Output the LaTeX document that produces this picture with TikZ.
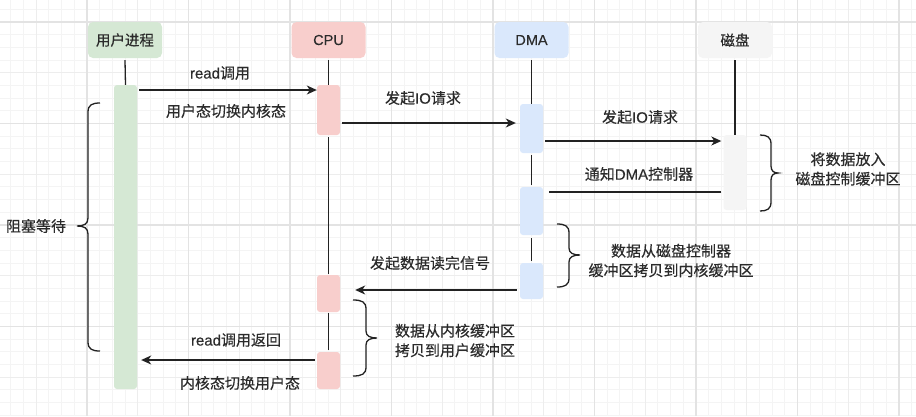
\documentclass[tikz,border=0pt]{standalone}
\usepackage{fontspec}
\setmainfont{Noto Sans CJK SC}[FakeBold=0.35]
\newfontfamily\lat{Liberation Sans}[FakeBold=0.25]
\usetikzlibrary{arrows.meta,calc}
\definecolor{txt}{HTML}{2B2B2B}
\definecolor{ln}{HTML}{222222}
\definecolor{ugreen}{HTML}{D5E8D4}
\definecolor{cred}{HTML}{F8CECC}
\definecolor{dblue}{HTML}{DAE8FC}
\definecolor{kgray}{HTML}{F5F5F5}
\definecolor{gminor}{HTML}{F4F4F4}
\definecolor{gmed}{HTML}{EDEDED}
\definecolor{gmajor}{HTML}{E3E3E3}
\tikzset{
  head/.style={rectangle, rounded corners=5pt, draw=none, minimum width=74pt, minimum height=36pt, inner sep=0pt, text=txt, font=\fontsize{14.5}{17}\selectfont},
  actbar/.style={rectangle, rounded corners=3pt, draw=none, minimum width=23pt, inner sep=0pt},
  life/.style={draw=ln, line width=1.3pt},
  arr/.style={draw=ln, line width=1.3pt, -{Stealth[length=10pt,width=9pt,inset=3pt]}},
  plain/.style={draw=ln, line width=1.3pt},
  brc/.style={draw=ln, line width=1.3pt},
  lbl/.style={text=txt, inner sep=0pt, font=\fontsize{15}{19.5}\selectfont, align=center},
}
\begin{document}
\begin{tikzpicture}[x=1pt,y=-1pt]
\useasboundingbox (0,0) rectangle (916,416);
\fill[white] (0,0) rectangle (916,416);
% grid
\begin{scope}
\clip (0,0) rectangle (916,416);
\foreach \i in {-7,...,66} \draw[gminor, line width=0.9pt] ({87+\i*12.6875},0) -- ++(0,416);
\foreach \i in {-2,...,32} \draw[gminor, line width=0.9pt] (0,{22+\i*12.6875}) -- ++(916,0);
\foreach \i in {-2,...,17} \draw[gmed, line width=1pt] ({87+\i*50.75},0) -- ++(0,416);
\foreach \i in {-1,...,8} \draw[gmed, line width=1pt] (0,{22+\i*50.75}) -- ++(916,0);
\foreach \i in {-1,...,8} \draw[gmajor, line width=1.1pt] ({87+\i*101.5},0) -- ++(0,416);
\foreach \i in {0,...,4} \draw[gmajor, line width=1.1pt] (0,{22+\i*101.5}) -- ++(916,0);
\end{scope}
% heads
\node[head, fill=ugreen] (hu) at (125,40) {用户进程};
\node[head, fill=cred]   (hc) at (328.5,40) {\lat CPU};
\node[head, fill=dblue]  (hd) at (531.5,40) {\lat DMA};
\node[head, fill=kgray]  (hk) at (735,40) {磁盘};
% activation bars
\node[actbar, fill=ugreen, minimum height=304pt] (ub) at (125.5,237) {};
\node[actbar, fill=cred, minimum height=50pt] (cb1) at (328.5,110) {};
\node[actbar, fill=cred, minimum height=37pt] (cb2) at (328.5,293.5) {};
\node[actbar, fill=cred, minimum height=37pt] (cb3) at (328.5,370.5) {};
\node[actbar, fill=dblue, minimum height=49pt] (db1) at (531.5,128.5) {};
\node[actbar, fill=dblue, minimum height=48pt] (db2) at (531.5,211) {};
\node[actbar, fill=dblue, minimum height=36pt] (db3) at (531.5,281) {};
\node[actbar, fill=kgray, minimum height=75pt] (kb) at (735,172.5) {};
% lifelines
\draw[life] ($(hu.south)+(0,2)$) -- (ub.north);
\draw[life] ($(hc.south)+(0,2)$) -- (cb1.north);
\draw[life] ($(cb1.south)+(0,2)$) -- ($(cb2.north)+(0,-1)$);
\draw[life] ($(cb2.south)+(0,1)$) -- ($(cb3.north)+(0,-2)$);
\draw[life] ($(hd.south)+(0,2)$) -- (db1.north);
\draw[life] ($(db1.south)+(0,2)$) -- ($(db2.north)+(0,-2)$);
\draw[life] ($(db2.south)+(0,3)$) -- ($(db3.north)+(0,-2)$);
\draw[life] ($(hk.south)+(0,2)$) -- (kb.north);
% messages
\draw[arr] ($(ub.east |- 0,90)+(2,0)$) -- (cb1.west |- 0,90);
\draw[arr] ($(cb1.east |- 0,123)+(2,0)$) -- ($(db1.west |- 0,123)+(-4,0)$);
\draw[arr] ($(db1.east |- 0,141)+(2,0)$) -- ($(kb.west |- 0,141)+(-2,0)$);
\draw[plain] ($(kb.west |- 0,192)+(-2,0)$) -- ($(db2.east |- 0,192)+(6,0)$);
\draw[arr] ($(db3.west |- 0,290)+(-3,0)$) -- ($(cb2.east |- 0,290)+(15,0)$);
\draw[arr] ($(cb3.west |- 0,360)+(-2,0)$) -- ($(ub.east |- 0,360)+(4,0)$);
% message labels
\node[lbl] (l1) at (220,73) {{\lat read}调用};
\node[lbl] (l2) at (226,111) {用户态切换内核态};
\node[lbl] (l3) at (423,98) {发起{\lat IO}请求};
\node[lbl] (l4) at (640,117) {发起{\lat IO}请求};
\node[lbl] (l5) at (639,174) {通知{\lat DMA}控制器};
\node[lbl] (l6) at (430,263) {发起数据读完信号};
\node[lbl] (l7) at (236,340) {{\lat read}调用返回};
\node[lbl] (l8) at (240,383) {内核态切换用户态};
% braces
\draw[brc] (100,103) .. controls (92,103) and (88,105) .. (88,112) -- (88,218)
  .. controls (88,224) and (84,226) .. (77,226) .. controls (84,226) and (88,228) .. (88,234)
  -- (88,342) .. controls (88,349) and (92,351) .. (100,351);
\draw[brc] (760,135) .. controls (767,135) and (771,137) .. (771,144) -- (771,166)
  .. controls (771,171) and (774,173) .. (778,173) .. controls (774,173) and (771,175) .. (771,180)
  -- (771,202) .. controls (771,209) and (767,211) .. (760,211);
\draw[brc] (557,224) .. controls (565,224) and (569,226) .. (569,233) -- (569,248)
  .. controls (569,253) and (573,255) .. (580,255) .. controls (573,255) and (569,257) .. (569,262)
  -- (569,278) .. controls (569,285) and (565,287) .. (557,287);
\draw[brc] (353,300) .. controls (362,300) and (366,302) .. (366,309) -- (366,331)
  .. controls (366,336) and (370,338) .. (377,338) .. controls (370,338) and (366,340) .. (366,345)
  -- (366,367) .. controls (366,374) and (362,376) .. (353,376);
% brace labels
\node[lbl] (b1) at (36,226) {阻塞等待};
\node[lbl] (b2) at (848,169) {将数据放入\\磁盘控制缓冲区};
\node[lbl] (b3) at (671,260.5) {数据从磁盘控制器\\缓冲区拷贝到内核缓冲区};
\node[lbl] (b4) at (455,340.5) {数据从内核缓冲区\\拷贝到用户缓冲区};
\end{tikzpicture}
\end{document}
